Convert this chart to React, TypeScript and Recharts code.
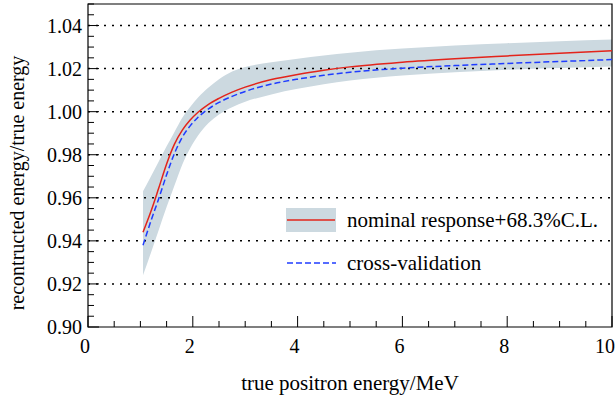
import React from 'react'
import { ComposedChart, Area, Line, XAxis, YAxis, ReferenceLine, ReferenceArea } from 'recharts'

// energy grid (MeV) and the curves
const energy = [1.05, 1.2, 1.35, 1.5, 1.65, 1.8, 1.95, 2.1, 2.3, 2.5, 2.75, 3.0, 3.5, 4, 4.5, 5, 6, 7, 8, 9, 10]
const nominal = [
  0.944, 0.9536, 0.9645, 0.9757, 0.9849, 0.9914, 0.9961, 0.9997, 1.0034, 1.0062, 1.0091, 1.0114, 1.0149, 1.0173,
  1.0192, 1.0208, 1.023, 1.0246, 1.0259, 1.0271, 1.0283
]
const crossValidation = [
  0.938, 0.9492, 0.9596, 0.9707, 0.9806, 0.9882, 0.9934, 0.9974, 1.0013, 1.0043, 1.0071, 1.0094, 1.0128, 1.0151,
  1.0169, 1.0183, 1.0202, 1.0214, 1.0224, 1.0233, 1.0242
]
const bandLow = [
  0.924, 0.9344, 0.9451, 0.9557, 0.9657, 0.9755, 0.983, 0.9889, 0.9947, 0.9987, 1.0021, 1.0046, 1.008, 1.0106, 1.0127,
  1.0145, 1.0168, 1.0183, 1.0195, 1.0203, 1.021
]
const bandHigh = [
  0.963, 0.9699, 0.9769, 0.9839, 0.9906, 0.9972, 1.0022, 1.0066, 1.0112, 1.015, 1.0186, 1.0207, 1.0229, 1.0246, 1.0261,
  1.0274, 1.0293, 1.0307, 1.0318, 1.0327, 1.0335
]

const xLabels = [0, 2, 4, 6, 8, 10]
const yLabels = [0.9, 0.92, 0.94, 0.96, 0.98, 1.0, 1.02, 1.04]
const gridValues = [0.92, 0.94, 0.96, 0.98, 1.0, 1.02, 1.04]

const xTicks = Array.from({ length: 21 }, (_, i) => i * 0.5)
const yTicks = Array.from({ length: 31 }, (_, i) => +(0.9 + i * 0.005).toFixed(3))

const data = energy.map((e, i) => ({
  e,
  band: [bandLow[i], bandHigh[i]],
  nominal: nominal[i],
  cv: crossValidation[i]
}))

const FONT = '"Liberation Serif", "Times New Roman", serif'
const BAND = '#ccd9e0'
const RED = '#e3241b'
const BLUE = '#1f3cff'
const textStyle = { fontFamily: FONT }

const XTick = (props: any) => {
  const { x, y, payload } = props
  const major = xLabels.some((v) => Math.abs(v - payload.value) < 1e-6)
  const last = payload.value === 10
  return (
    <g>
      <line x1={x} x2={x} y1={y} y2={y - (major ? 11 : 6)} stroke='#000' strokeWidth={1} />
      {major && (
        <text
          x={last ? x + 3 : x - 3}
          y={y + 19}
          textAnchor={last ? 'end' : 'middle'}
          dominantBaseline='central'
          style={textStyle}
          fontSize={20}
          fill='#000'
        >
          {payload.value}
        </text>
      )}
    </g>
  )
}

const YTick = (props: any) => {
  const { x, y, payload } = props
  const major = yLabels.some((v) => Math.abs(v - payload.value) < 1e-6)
  return (
    <g>
      <line x1={x} x2={x + (major ? 11 : 6)} y1={y} y2={y} stroke='#000' strokeWidth={1} />
      {major && (
        <text x={x - 6} y={y} textAnchor='end' dominantBaseline='central' style={textStyle} fontSize={20} fill='#000'>
          {payload.value.toFixed(2)}
        </text>
      )}
    </g>
  )
}

export default function App() {
  return (
    <div style={{ position: 'absolute', left: 0, top: 0, width: 615, height: 400, background: '#fff' }}>
      <ComposedChart width={615} height={400} data={data} margin={{ top: 4, right: 3, bottom: 0, left: 0 }}>
        <XAxis
          dataKey='e'
          type='number'
          domain={[0, 10]}
          ticks={xTicks}
          interval={0}
          axisLine={false}
          tickLine={false}
          tickSize={0}
          tickMargin={0}
          height={73}
          tick={<XTick />}
          allowDataOverflow
        />
        <YAxis
          type='number'
          domain={[0.9, 1.05]}
          ticks={yTicks}
          interval={0}
          axisLine={false}
          tickLine={false}
          tickSize={0}
          tickMargin={0}
          width={88}
          tick={<YTick />}
          allowDataOverflow
        />
        <Area dataKey='band' type='monotone' fill={BAND} fillOpacity={1} stroke='none' isAnimationActive={false} />
        {gridValues.map((v) => (
          <ReferenceLine key={v} y={v} stroke='#000' strokeWidth={1.5} strokeDasharray='2 6' />
        ))}
        <Line dataKey='nominal' type='monotone' stroke={RED} strokeWidth={1.5} dot={false} isAnimationActive={false} />
        <Line
          dataKey='cv'
          type='monotone'
          stroke={BLUE}
          strokeWidth={1.5}
          strokeDasharray='6 3'
          dot={false}
          isAnimationActive={false}
        />
        <ReferenceArea x1={0} x2={10} y1={0.9} y2={1.05} fill='none' stroke='#000' strokeWidth={1.2} ifOverflow='visible' />
      </ComposedChart>

      <svg width={615} height={400} style={{ position: 'absolute', left: 0, top: 0, pointerEvents: 'none' }}>
        <text
          x={0}
          y={0}
          transform='translate(17,183) rotate(-90)'
          textAnchor='middle'
          dominantBaseline='central'
          style={textStyle}
          fontSize={20}
          fill='#000'
        >
          recontructed energy/true energy
        </text>
        <text x={350} y={383} textAnchor='middle' dominantBaseline='central' style={textStyle} fontSize={21} fill='#000'>
          true positron energy/MeV
        </text>

        <rect x={286} y={208} width={50} height={24} fill={BAND} />
        <line x1={287} x2={335} y1={220} y2={220} stroke={RED} strokeWidth={1.5} />
        <text x={347} y={220} dominantBaseline='central' style={textStyle} fontSize={21} fill='#000'>
          nominal response+68.3%C.L.
        </text>
        <line x1={287} x2={336} y1={263} y2={263} stroke={BLUE} strokeWidth={1.5} strokeDasharray='6 3' />
        <text x={347} y={263} dominantBaseline='central' style={textStyle} fontSize={21} fill='#000'>
          cross-validation
        </text>
      </svg>
    </div>
  )
}
